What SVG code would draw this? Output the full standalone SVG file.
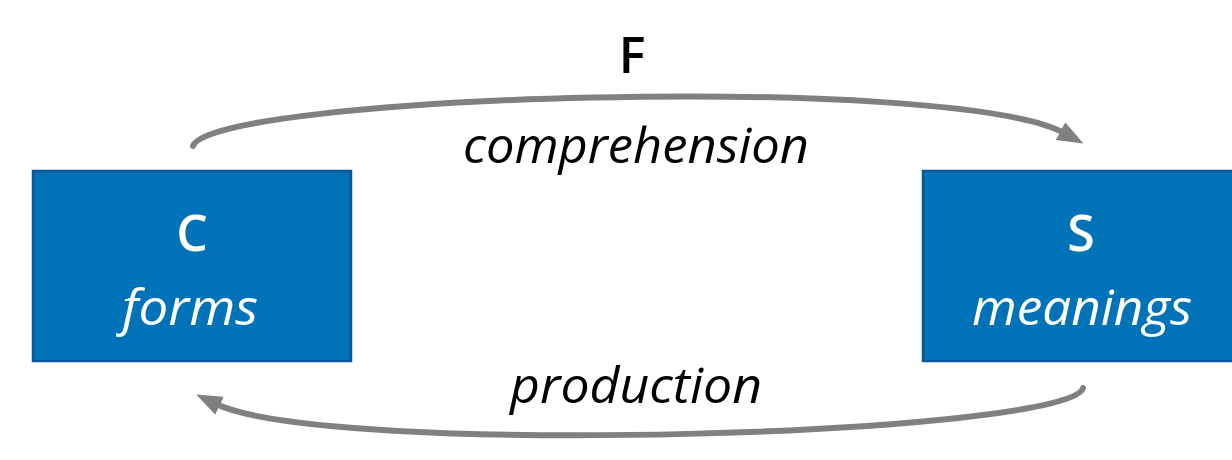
<svg xmlns="http://www.w3.org/2000/svg" width="1232" height="460" viewBox="0 0 1232 460">
  <defs>
    <style>
      .box { fill: #0072B8; stroke: #0458A0; stroke-width: 2.5; }
      .sym { font-family: "Open Sans", "DejaVu Sans", sans-serif; font-weight: 600; font-size: 50px; text-anchor: middle; }
      .lbl { font-family: "Open Sans", "DejaVu Sans", sans-serif; font-style: italic; font-size: 50px; text-anchor: middle; }
      .white { fill: #ffffff; }
      .black { fill: #000000; }
      .arc { fill: none; stroke: #808080; stroke-width: 6; stroke-linecap: round; }
    </style>
    <marker id="head" markerUnits="userSpaceOnUse" markerWidth="28" markerHeight="24" refX="4" refY="12" orient="auto">
      <path d="M0,2 L26,12 L0,22 Z" fill="#808080"/>
    </marker>
  </defs>

  <rect width="1232" height="460" fill="#ffffff"/>

  <g id="connectors">
    <path class="arc" d="M193,146 C210,95 950,72 1064,133" marker-end="url(#head)"/>
    <path class="arc" d="M1083,388 C1070,435 330,458 216,404" marker-end="url(#head)"/>
  </g>

  <g id="label-F">
    <text class="sym black" x="632" y="73">F</text>
  </g>
  <g id="label-comprehension">
    <text class="lbl black" x="636" y="163" textLength="346" lengthAdjust="spacingAndGlyphs">comprehension</text>
  </g>
  <g id="label-production">
    <text class="lbl black" x="636" y="403" textLength="252" lengthAdjust="spacingAndGlyphs">production</text>
  </g>

  <g id="node-C">
    <rect class="box" x="33" y="171" width="318" height="190"/>
    <text class="sym white" x="192" y="251">C</text>
    <text class="lbl white" x="190" y="325" textLength="136" lengthAdjust="spacingAndGlyphs">forms</text>
  </g>

  <g id="node-S">
    <rect class="box" x="923" y="171" width="312" height="190"/>
    <text class="sym white" x="1081" y="251">S</text>
    <text class="lbl white" x="1082" y="325" textLength="220" lengthAdjust="spacingAndGlyphs">meanings</text>
  </g>
</svg>
